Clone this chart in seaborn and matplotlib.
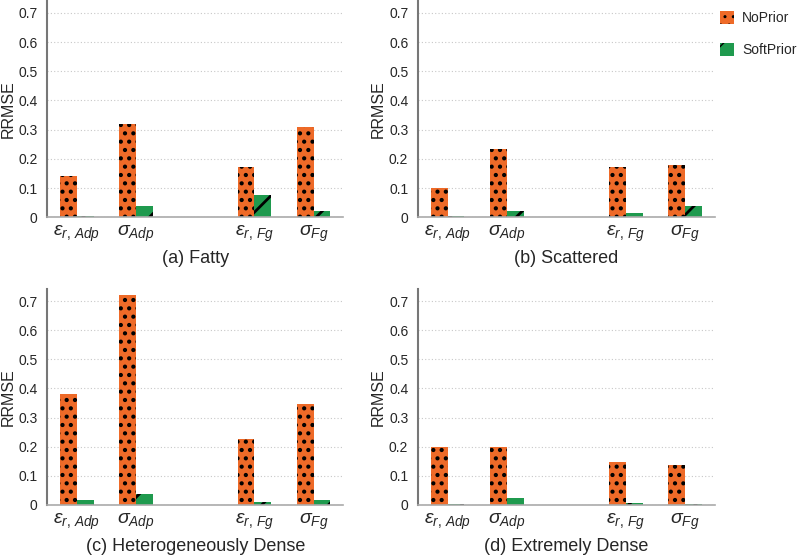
import pandas as pd
import numpy as np
import matplotlib
matplotlib.use('Agg')
import matplotlib.pyplot as plt
import seaborn as sns
from matplotlib.patches import Patch
from matplotlib.ticker import FuncFormatter

params = ['eps_adp', 'sig_adp', 'gap', 'eps_fg', 'sig_fg']
tick_labels = [r'$\varepsilon_{r,\,Adp}$', r'$\sigma_{Adp}$', '',
               r'$\varepsilon_{r,\,Fg}$', r'$\sigma_{Fg}$']
panels = ['(a) Fatty', '(b) Scattered', '(c) Heterogeneously Dense', '(d) Extremely Dense']
methods = ['NoPrior', 'SoftPrior']

noprior = [
    [0.140, 0.320, 0.173, 0.308],
    [0.100, 0.235, 0.172, 0.180],
    [0.382, 0.722, 0.227, 0.347],
    [0.198, 0.198, 0.147, 0.136],
]
softprior = [
    [0.003, 0.040, 0.077, 0.022],
    [0.004, 0.022, 0.015, 0.037],
    [0.018, 0.036, 0.011, 0.018],
    [0.003, 0.025, 0.007, 0.003],
]
data_params = ['eps_adp', 'sig_adp', 'eps_fg', 'sig_fg']

orange = '#EE6A28'
green = '#1F9A4E'

sns.set_style('white')
plt.rcParams['font.family'] = ['Liberation Sans', 'DejaVu Sans']
plt.rcParams['mathtext.fontset'] = 'custom'
plt.rcParams['mathtext.it'] = 'Liberation Sans:italic'
plt.rcParams['mathtext.rm'] = 'Liberation Sans'

fig = plt.figure(figsize=(8, 5.57), dpi=100)
boxes = [
    [0.059, 0.610, 0.370, 0.388],
    [0.5225, 0.610, 0.371, 0.388],
    [0.059, 0.0934, 0.370, 0.387],
    [0.5225, 0.0934, 0.371, 0.387],
]

for i in range(4):
    ax = fig.add_axes(boxes[i])
    rows = []
    for j, p in enumerate(data_params):
        rows.append({'param': p, 'method': 'NoPrior', 'rrmse': noprior[i][j]})
        rows.append({'param': p, 'method': 'SoftPrior', 'rrmse': softprior[i][j]})
    df = pd.DataFrame(rows)
    sns.barplot(data=df, x='param', y='rrmse', hue='method', order=params,
                hue_order=methods, palette=[orange, green], width=0.565,
                edgecolor='black', linewidth=0, saturation=1, legend=False, ax=ax)
    for bar in ax.patches:
        fc = bar.get_facecolor()
        if abs(fc[0] - 0.93) < 0.05:
            bar.set_hatch('..')
            if hasattr(bar, 'set_hatch_linewidth'):
                bar.set_hatch_linewidth(1.8)
        else:
            bar.set_hatch('/')
            if hasattr(bar, 'set_hatch_linewidth'):
                bar.set_hatch_linewidth(2.0)

    ax.set_xlim(-0.5, 4.5)
    ax.set_ylim(0, 0.74)
    ax.set_yticks(np.arange(0, 0.71, 0.1))
    ax.yaxis.set_major_formatter(FuncFormatter(lambda v, pos: '0' if abs(v) < 1e-9 else f'{v:.1f}'))
    ax.grid(axis='y', linestyle=(0, (1, 2)), color='#c8c8c8', linewidth=0.8)
    ax.set_axisbelow(True)
    ax.set_xticks(range(5))
    ax.set_xticklabels(tick_labels, fontsize=14)
    ax.set_xticks(np.arange(-0.5, 5, 1), minor=True)
    ax.tick_params(axis='x', which='major', length=0, pad=5)
    ax.tick_params(axis='x', which='minor', length=4, color='#888888', width=1)
    ax.tick_params(axis='y', length=0, labelsize=10, pad=7)
    for s in ['top', 'right']:
        ax.spines[s].set_visible(False)
    ax.spines['left'].set_color('#777777')
    ax.spines['left'].set_linewidth(1.5)
    ax.spines['bottom'].set_color('#aaaaaa')
    ax.spines['bottom'].set_linewidth(1.2)
    ax.set_ylabel('RRMSE', fontsize=11.5, labelpad=2)
    ax.set_xlabel(panels[i], fontsize=13, labelpad=4)

handles = [Patch(facecolor=orange, edgecolor='black', linewidth=0, hatch='..', label='NoPrior'),
           Patch(facecolor=green, edgecolor='black', linewidth=0, hatch='/', label='SoftPrior')]
fig.legend(handles=handles, loc='upper left', bbox_to_anchor=(0.9, 0.98), frameon=False,
           fontsize=10, handlelength=1.0, handleheight=1.0, labelspacing=1.3,
           handletextpad=0.6, borderaxespad=0, borderpad=0)

fig.savefig('out.png', dpi=100)
